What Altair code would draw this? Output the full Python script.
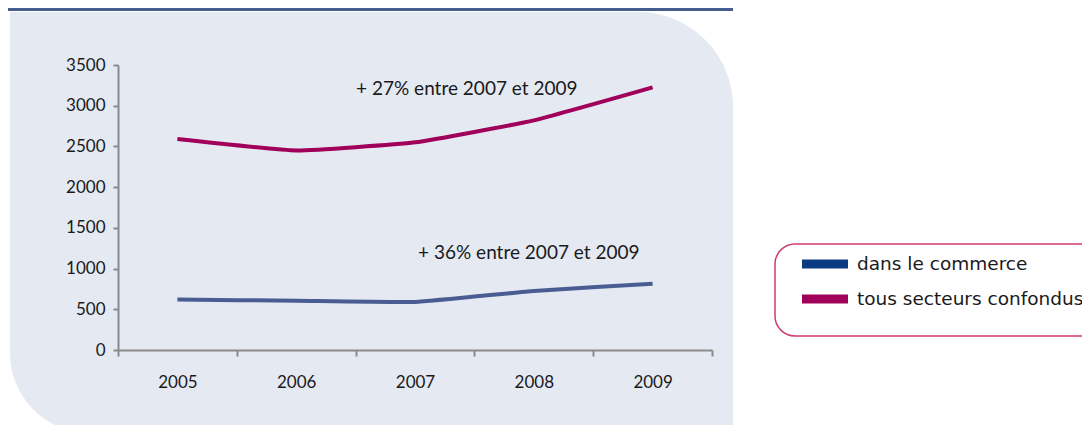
import altair as alt
import pandas as pd

years = ["2005", "2006", "2007", "2008", "2009"]
commerce = [620, 605, 590, 725, 815]
tous = [2590, 2450, 2550, 2820, 3225]
series_names = ["dans le commerce", "tous secteurs confondus"]
line_colors = ["#4A5D93", "#A0005A"]
legend_colors = ["#0B3A80", "#A0005A"]
y_ticks = [0, 500, 1000, 1500, 2000, 2500, 3000, 3500]

annot_text = ["+ 27% entre 2007 et 2009", "+ 36% entre 2007 et 2009"]
annot_year = ["2008", "2008"]
annot_value = [3200, 1190]
annot_dx = [-67, -5]

rows = []
for y, c, t in zip(years, commerce, tous):
    rows.append({"year": y, "series": series_names[0], "value": c})
    rows.append({"year": y, "series": series_names[1], "value": t})
df = pd.DataFrame(rows)

W, H = 594, 285
one = alt.Data(values=[{}])

xenc = alt.X("year:O", bandPosition=0.5, title=None,
             scale=alt.Scale(type="band", domain=years, paddingInner=0, paddingOuter=0),
             axis=alt.Axis(tickBand="extent", labelAngle=0, labelPadding=18, tickSize=6,
                           labelFont="Lato", labelFontSize=17, labelColor="#1a1a1a",
                           domainColor="#8a8a8a", tickColor="#8a8a8a", domainWidth=2, tickWidth=2,
                           zindex=2))
yenc = alt.Y("value:Q", title=None,
             scale=alt.Scale(domain=[0, 3500], nice=False),
             axis=alt.Axis(values=y_ticks, format="d", grid=False, tickSize=5, labelPadding=8,
                           labelFont="Lato", labelFontSize=17, labelColor="#1a1a1a",
                           domainColor="#8a8a8a", tickColor="#8a8a8a", domainWidth=2, tickWidth=2,
                           zindex=2))

bar = alt.Chart(one).mark_rect(color="#465D8F").encode(
    x=alt.value(-118), x2=alt.value(615), y=alt.value(-60), y2=alt.value(-54))

panel = alt.Chart(one).mark_rect(color="#E4E9F2", cornerRadiusTopRight=95,
                                 cornerRadiusBottomLeft=80).encode(
    x=alt.value(-108), x2=alt.value(615), y=alt.value(-53), y2=alt.value(368))

legbox = alt.Chart(one).mark_rect(fill="white", stroke="#D23A72", strokeWidth=1.5,
                                  cornerRadius=20).encode(
    x=alt.value(657), x2=alt.value(990), y=alt.value(179), y2=alt.value(271))

lines = alt.Chart(df).mark_line(strokeWidth=4, interpolate="cardinal", tension=0.6).encode(
    x=xenc, y=yenc,
    stroke=alt.Stroke("series:N", scale=alt.Scale(domain=series_names, range=line_colors),
                      legend=None))

# legend entries (guide drawn as marks inside the legend box)
legend_layers = []
row_y = [199, 234]
for name, col, ry in zip(series_names, legend_colors, row_y):
    entry = alt.Data(values=[{"label": name}])
    legend_layers.append(alt.Chart(entry).mark_rect(color=col).encode(
        x=alt.value(684), x2=alt.value(730), y=alt.value(ry - 4.5), y2=alt.value(ry + 4.5)))
    legend_layers.append(alt.Chart(entry).mark_text(
        font="DejaVu Sans", fontSize=18.5, color="#1a1a1a", align="left", baseline="middle").encode(
        x=alt.value(739), y=alt.value(ry), text="label:N"))

ann_layers = []
for t, yr, v, d in zip(annot_text, annot_year, annot_value, annot_dx):
    sub = pd.DataFrame({"text": [t], "year": [yr], "value": [v]})
    ann_layers.append(alt.Chart(sub).mark_text(font="Lato", fontSize=19, color="#1a1a1a",
                                               align="center", baseline="middle", dx=d).encode(
        x=alt.X("year:O", bandPosition=0.5), y=alt.Y("value:Q"), text="text:N"))

chart = alt.layer(bar, panel, legbox, lines, *legend_layers, *ann_layers).properties(
    width=W, height=H, padding={"left": 110, "top": 57, "right": 370, "bottom": 75},
    autosize=alt.AutoSizeParams(type="none")
).configure_view(stroke=None).configure(background="white")

chart.save("out.html", embed_options={"renderer": "svg", "actions": False})
